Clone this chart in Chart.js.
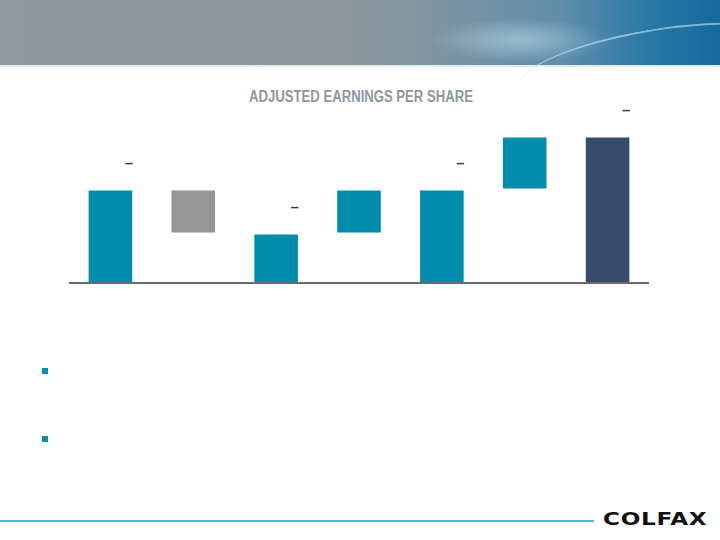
<!DOCTYPE html>
<html>
<head>
<meta charset="utf-8">
<script src="https://cdn.jsdelivr.net/npm/chart.js@4"></script>
<style>
    body { margin: 0; width: 720px; height: 540px; background: #fff; position: relative; overflow: hidden; font-family: "Liberation Sans", Arial, sans-serif; }
    #header {
        position: absolute; left: 0; top: 0; width: 720px; height: 65px;
        background:
            radial-gradient(ellipse 90px 22px at 520px 40px, rgba(190,225,235,0.55), rgba(190,225,235,0) 100%),
            linear-gradient(90deg, #8f989e 0%, #8e979d 45%, #84959f 58%, #5f8eab 78%, #2a78a6 90%, #146a9b 100%);
    }
    #header .sw1 { position: absolute; left: 420px; top: -40px; width: 420px; height: 110px; border-radius: 50%; border-top: 2px solid rgba(200,230,245,0.55); transform: rotate(8deg); }
    #header .sw2 { position: absolute; left: 520px; top: 30px; width: 260px; height: 60px; border-radius: 50%; border-top: 2px solid rgba(200,230,245,0.6); transform: rotate(-10deg); }
    #headerEdge { position: absolute; left: 0; top: 65px; width: 720px; height: 2px; background: #e3eef2; }
    #title {
        position: absolute; left: 0; top: 88px; width: 722px; text-align: center;
        font-family: "Liberation Sans", Arial, sans-serif; font-weight: bold; font-size: 16px; color: #8d979f;
        transform: scaleX(0.82); transform-origin: 361px center;
    }
    #chartBox { position: absolute; left: 0; top: 80px; width: 720px; height: 220px; }
    .bullet { position: absolute; left: 42px; width: 6px; height: 6px; background: #0090ab; }
    #footerLine { position: absolute; left: 0; top: 520px; width: 594px; height: 2px; background: #5ab6d2; }
    #logo {
        position: absolute; left: 603px; top: 509px; font-family: "DejaVu Sans", sans-serif; font-weight: bold;
        font-size: 17px; letter-spacing: 0.5px; color: #111; transform: scaleX(1.36); transform-origin: left center;
    }
</style>
</head>
<body>
<div id="header"><div class="sw1"></div><div class="sw2"></div></div>
<div id="headerEdge"></div>
<div id="title">ADJUSTED EARNINGS PER SHARE</div>
<div id="chartBox"><canvas id="epsChart" width="720" height="220"></canvas></div>
<div class="bullet" style="top:368px"></div>
<div class="bullet" style="top:436px"></div>
<div id="footerLine"></div>
<div id="logo">COLFAX</div>

<script>
// waterfall steps (floating bars: start -> end)
const categories = ['Start', 'Decrease', 'Subtotal', 'Increase', 'Subtotal', 'Increase', 'End'];
const barStart = [0, 1.87, 0, 0.99, 0, 1.87, 0];
const barEnd = [1.87, 0.99, 0.99, 1.87, 1.87, 2.93, 2.93];
const barLabels = ['\u2013', '', '\u2013', '', '\u2013', '', '\u2013'];
const barColors = ['#008dab', '#969696', '#008dab', '#008dab', '#008dab', '#008dab', '#374b6b'];

const ranges = barStart.map((s, i) => [s, barEnd[i]]);

// baseline under the bars plus the small labels above the totals
const extras = {
    id: 'extras',
    afterDatasetsDraw(chart) {
        const ctx = chart.ctx;
        const y0 = chart.scales.y.getPixelForValue(0);
        ctx.save();
        ctx.strokeStyle = '#6b6b6b';
        ctx.lineWidth = 2;
        ctx.beginPath();
        ctx.moveTo(chart.chartArea.left, y0);
        ctx.lineTo(chart.chartArea.right, y0);
        ctx.stroke();

        const meta = chart.getDatasetMeta(0);
        ctx.font = 'bold 15px "Liberation Sans", Arial, sans-serif';
        ctx.fillStyle = '#3a3a3a';
        ctx.textAlign = 'right';
        ctx.textBaseline = 'middle';
        meta.data.forEach((bar, i) => {
            if (!barLabels[i]) return;
            const top = Math.min(bar.y, bar.base);
            ctx.fillText(barLabels[i], bar.x + bar.width / 2, top - 26);
        });
        ctx.restore();
    }
};

new Chart(document.getElementById('epsChart').getContext('2d'), {
    type: 'bar',
    data: {
        labels: categories,
        datasets: [{
            data: ranges,
            backgroundColor: barColors,
            borderColor: 'rgba(255,255,255,0.35)',
            borderWidth: 1,
            borderSkipped: false,
            barPercentage: 0.55,
            categoryPercentage: 1
        }]
    },
    options: {
        responsive: false,
        animation: false,
        layout: { padding: { left: 69, right: 71, top: 28, bottom: 17 } },
        plugins: { legend: { display: false }, tooltip: { enabled: false }, title: { display: false } },
        scales: {
            x: { display: false },
            y: { display: false, min: 0, max: 3.5 }
        }
    },
    plugins: [extras]
});
</script>
</body>
</html>
